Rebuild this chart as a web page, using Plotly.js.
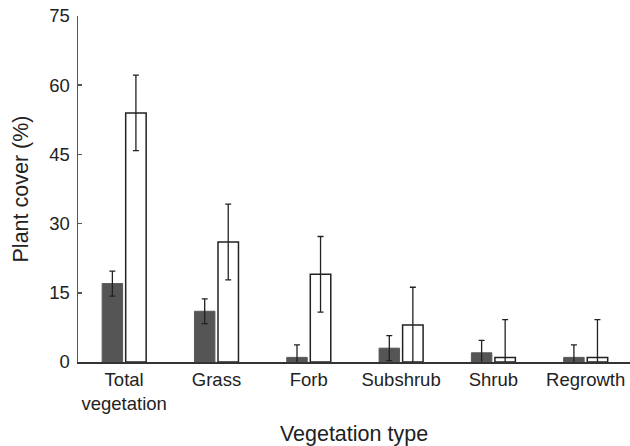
<!DOCTYPE html>
<html>
<head>
<meta charset="utf-8">
<script src="https://cdn.plot.ly/plotly-3.0.1.min.js"></script>
<style>body{margin:0;padding:0;background:#fff}#chart{width:630px;height:446px}</style>
</head>
<body>
<div id="chart"></div>
<script>
var categories = ["Total<br>vegetation", "Grass", "Forb", "Subshrub", "Shrub", "Regrowth"];
var darkValues = [17, 11, 1, 3, 2, 1];
var darkErrors = [2.7, 2.7, 2.7, 2.7, 2.7, 2.7];
var whiteValues = [54, 26, 19, 8, 1, 1];
var whiteErrors = [8.2, 8.2, 8.2, 8.2, 8.2, 8.2];
var yTicks = [0, 15, 30, 45, 60, 75];

var traceDark = {
  type: 'bar', x: categories, y: darkValues,
  marker: {color: '#555555', line: {color: '#5a5a5a', width: 1}},
  error_y: {type: 'data', array: darkErrors, visible: true, color: '#222222', thickness: 1.3, width: 3},
  showlegend: false, hoverinfo: 'none'
};
var traceWhite = {
  type: 'bar', x: categories, y: whiteValues,
  marker: {color: '#ffffff', line: {color: '#222222', width: 1.5}},
  error_y: {type: 'data', array: whiteErrors, visible: true, color: '#222222', thickness: 1.3, width: 3},
  showlegend: false, hoverinfo: 'none'
};

var layout = {
  width: 630, height: 446,
  margin: {l: 78, r: 0, t: 16, b: 84},
  paper_bgcolor: '#ffffff', plot_bgcolor: '#ffffff',
  font: {family: 'Liberation Sans, Arial, sans-serif', color: '#222222', size: 18.5},
  barmode: 'group', bargap: 0.49, bargroupgap: 0.13,
  xaxis: {
    type: 'category', range: [-0.5, 5.48],
    showline: true, linecolor: '#333333', linewidth: 1.5,
    ticks: '', showgrid: false, zeroline: false,
    tickfont: {size: 18.5, color: '#222222'},
    title: {text: 'Vegetation type', font: {size: 21.5, color: '#222222'}, standoff: 14}
  },
  yaxis: {
    range: [0, 75], tickvals: yTicks, ticktext: yTicks.map(String),
    showline: true, linecolor: '#555555', linewidth: 1.5,
    ticks: 'inside', ticklen: 4, tickcolor: '#555555', tickwidth: 1.5,
    showgrid: false, zeroline: false,
    tickfont: {size: 18.5, color: '#222222'},
    ticklabelstandoff: 3,
    title: {text: 'Plant cover (%)', font: {size: 21.5, color: '#222222'}, standoff: 14}
  }
};

Plotly.newPlot('chart', [traceDark, traceWhite], layout, {staticPlot: true, displayModeBar: false});
</script>
</body>
</html>
